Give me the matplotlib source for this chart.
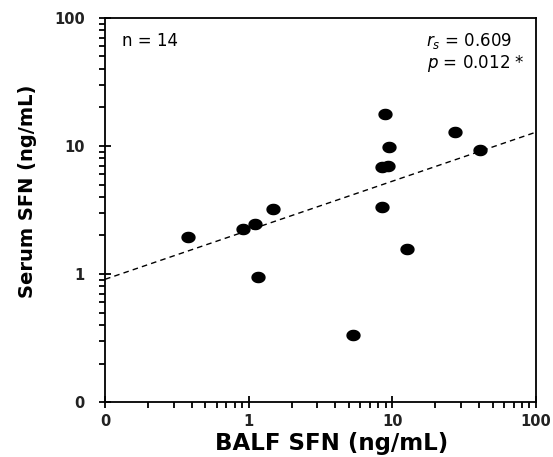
import numpy as np
import matplotlib
matplotlib.use("Agg")
import matplotlib.pyplot as plt
from matplotlib.path import Path
from matplotlib.ticker import FixedLocator, LogLocator, NullFormatter

# BALF vs serum SFN
balf_sfn = [0.38, 0.92, 1.11, 1.47, 1.16, 5.35, 8.5, 8.5, 9.35, 8.9, 9.5, 12.6, 27.5, 40.9]
serum_sfn = [1.95, 2.25, 2.47, 3.20, 0.95, 0.333, 3.32, 6.86, 6.93, 17.8, 9.89, 1.56, 12.8, 9.3]
fit_x = [0.1, 100]
fit_y = [0.91, 12.8]
tick_vals = [0.1, 1, 10, 100]
tick_labels = ["0", "1", "10", "100"]

plt.rcParams["font.family"] = ["DejaVu Sans"]

# slightly wide ellipse marker
t = np.linspace(0, 2 * np.pi, 40)
ellipse = Path(np.column_stack([1.27 * np.cos(t), np.sin(t)]), closed=True)

fig = plt.figure(figsize=(5.53, 4.57), dpi=100)
ax = fig.add_axes([0.190, 0.120, 0.779, 0.841])
ax.set_xscale("log")
ax.set_yscale("log")
ax.set_xlim(0.1, 100)
ax.set_ylim(0.1, 100)

ax.plot(fit_x, fit_y, ls=(0, (4, 3)), color="black", lw=1.0)
ax.plot(balf_sfn, serum_sfn, ls="none", marker=ellipse, ms=9.3, color="black")

for axis in (ax.xaxis, ax.yaxis):
    axis.set_major_locator(FixedLocator(tick_vals))
    axis.set_minor_locator(LogLocator(base=10, subs=np.arange(2, 10)))
    axis.set_minor_formatter(NullFormatter())
ax.set_xticklabels(tick_labels, fontweight="bold", fontsize=10.5, color="#222222")
ax.set_yticklabels(tick_labels, fontweight="bold", fontsize=10.5, color="#222222")
ax.tick_params(which="major", direction="inout", length=9, width=1.3, pad=4)
ax.tick_params(which="minor", direction="out", length=4, width=1.3)
ax.tick_params(axis="y", which="major", pad=10)
for s in ax.spines.values():
    s.set_linewidth(1.3)

ax.set_xlabel("BALF SFN (ng/mL)", fontsize=16.5, fontweight="bold")
ax.set_ylabel("Serum SFN (ng/mL)", fontsize=14, fontweight="bold")
ax.xaxis.set_label_coords(0.527, -0.107)
ax.yaxis.set_label_coords(-0.181, 0.549)
ax.xaxis.label.set_va("center")
ax.yaxis.label.set_va("center")

ax.text(0.04, 0.94, "n = 14", transform=ax.transAxes, fontsize=12, va="center", ha="left")
ax.text(0.945, 0.94, r"$r_s$ = 0.609", transform=ax.transAxes, fontsize=12,
        va="center", ha="right")
ax.text(0.975, 0.88, r"$p$ = 0.012 *", transform=ax.transAxes, fontsize=12,
        va="center", ha="right")

fig.savefig("out.png", dpi=100)
